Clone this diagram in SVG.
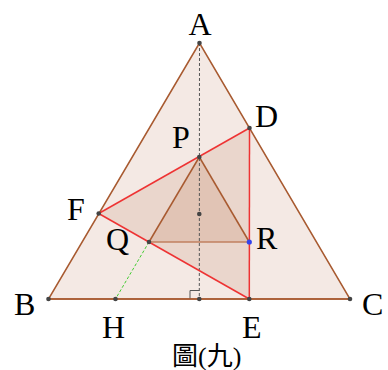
<svg xmlns="http://www.w3.org/2000/svg" width="388" height="370" viewBox="0 0 388 370">
<style>
.lbl{font-family:"Liberation Serif","Times New Roman",serif;font-size:32px;fill:#000}
.brown{stroke:#a85a30;stroke-width:1.5;fill:none}
.red{stroke:#ee3333;stroke-width:1.5;fill:none}
.pt{fill:#444}
</style>
<rect width="388" height="370" fill="#fff"/>
<g id="triangle-ABC">
<polygon points="199.5,43 48.5,299 350,299" class="brown" style="fill:#f4e9e4"/>
</g>
<g id="triangle-DEF">
<polygon points="249.5,128 249.3,299 98.7,213.5" fill="#ead6cc" stroke="none"/>
</g>
<g id="triangle-PQR">
<polygon points="199.3,157 149,242 249.3,242" fill="#e1c4b5" stroke="none"/>
</g>
<g id="connectors">
<line x1="199.5" y1="43" x2="199.3" y2="299" stroke="#555" stroke-width="1" stroke-dasharray="3,2"/>
<line x1="149" y1="242" x2="115.5" y2="299" stroke="#44cc33" stroke-width="1" stroke-dasharray="3,2"/>
<polyline points="190,299 190,290.5 199.3,290.5" fill="none" stroke="#555" stroke-width="1"/>
<line x1="98.7" y1="213.5" x2="249.5" y2="128" class="red"/>
<line x1="98.7" y1="213.5" x2="249.3" y2="299" class="red"/>
<line x1="249.5" y1="128" x2="249.3" y2="299" class="red"/>
<line x1="199.3" y1="157" x2="149" y2="242" class="brown"/>
<line x1="199.3" y1="157" x2="249.3" y2="242" class="brown"/>
<line x1="149" y1="242" x2="249.3" y2="242" stroke="#c08060" stroke-width="1.5"/>
<line x1="48.5" y1="299" x2="350" y2="299" class="brown"/>
</g>
<g id="points">
<circle cx="199.5" cy="43" r="2.3" class="pt"/>
<circle cx="48.5" cy="299" r="2.3" class="pt"/>
<circle cx="350" cy="299" r="2.3" class="pt"/>
<circle cx="249.5" cy="128" r="2.3" class="pt"/>
<circle cx="199.3" cy="157" r="2.3" class="pt"/>
<circle cx="98.7" cy="213.5" r="2.3" class="pt"/>
<circle cx="149" cy="242" r="2.3" class="pt"/>
<circle cx="249.3" cy="242" r="2.6" fill="#3344ee"/>
<circle cx="249.3" cy="299" r="2.3" class="pt"/>
<circle cx="115.5" cy="299" r="2.3" class="pt"/>
<circle cx="199.3" cy="214" r="2.3" class="pt"/>
<circle cx="199.3" cy="299" r="2.3" class="pt"/>
</g>
<g id="labels">
<text class="lbl" x="200" y="35" text-anchor="middle">A</text>
<text class="lbl" x="255" y="127">D</text>
<text class="lbl" x="172" y="148">P</text>
<text class="lbl" x="67" y="220">F</text>
<text class="lbl" x="106" y="250">Q</text>
<text class="lbl" x="256" y="249">R</text>
<text class="lbl" x="14" y="315">B</text>
<text class="lbl" x="362" y="315">C</text>
<text class="lbl" x="102" y="338">H</text>
<text class="lbl" x="242" y="338">E</text>
<text x="172" y="365" font-size="26" font-family="'Liberation Serif','Noto Sans CJK TC',serif">圖(九)</text>
</g>
</svg>
